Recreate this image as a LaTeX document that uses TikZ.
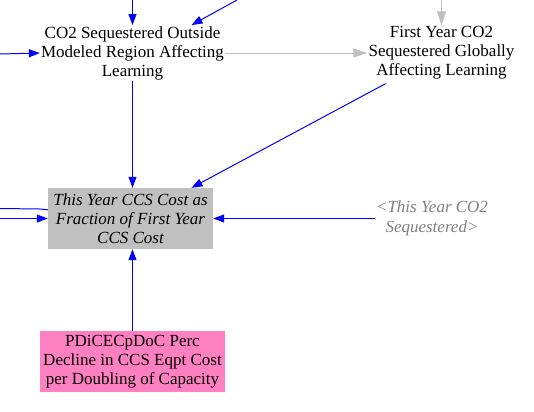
\documentclass[tikz,border=0pt]{standalone}
\usepackage{fontspec}
\setmainfont{Liberation Serif}
\usetikzlibrary{arrows.meta,calc}
\definecolor{linkblue}{RGB}{0,0,255}
\definecolor{shadowgray}{RGB}{192,192,192}
\definecolor{ghosttext}{RGB}{128,128,128}
\definecolor{constpink}{RGB}{255,128,192}
\tikzset{
    var/.style={align=center,inner sep=1bp,font=\rmfamily\fontsize{17bp}{19bp}\selectfont},
    auxbox/.style={var,fill=shadowgray,minimum width=165bp,minimum height=61bp,font=\rmfamily\fontsize{17bp}{19bp}\selectfont\itshape},
    ghost/.style={var,text=ghosttext,font=\rmfamily\fontsize{17bp}{20bp}\selectfont\itshape},
    constbox/.style={var,fill=constpink,minimum width=185bp,minimum height=61bp},
    link/.style={linkblue,line width=1bp,-{Triangle[length=11bp,width=8bp]}},
    glink/.style={shadowgray,line width=1bp,-{Triangle[length=14bp,width=9bp]}}
}
\begin{document}
\begin{tikzpicture}[x=1bp,y=-1bp]
        \useasboundingbox (0,0) rectangle (534,411);
        \coordinate (inA) at (132.5,0);
        \coordinate (inB) at (237,0);
        \coordinate (inC) at (0,54);
        \coordinate (inD) at (441.5,0);
        \coordinate (inE) at (0,208.5);
        \coordinate (inF) at (0,218.5);
        \draw[linkblue,line width=1bp] (inE) -- (40,209) -- (60,211);
        \node[var] (co2out) at (132.5,53) {CO2 Sequestered Outside\\Modeled Region Affecting\\Learning};
        \node[var] (firstyr) at (441.5,53) {First Year CO2\\Sequestered Globally\\Affecting Learning};
        \node[auxbox] (ratio) at (130.5,218.5) {This Year CCS Cost as\\Fraction of First Year\\CCS Cost};
        \node[ghost] (thisyr) at (432,218.5) {<This Year CO2\\Sequestered>};
        \node[constbox] (pdice) at (132.5,361.5) {PDiCECpDoC Perc\\Decline in CCS Eqpt Cost\\per Doubling of Capacity};
        \draw[link] (inA) -- (co2out.north);
        \draw[link] (inB) -- ($(co2out.north)+(59,0)$);
        \draw[link] (inC) -- (co2out.west);
        \draw[glink] (co2out.east) -- (firstyr.west);
        \draw[glink] (inD) -- (firstyr.north);
        \draw[link] ($(firstyr.south)+(-56,3)$) -- ($(ratio.north)+(61,0)$);
        \draw[link] (co2out.south) -- (co2out.south |- ratio.north);
        \draw[link] (inF) -- (ratio.west);
        \draw[link] (thisyr.west) -- (ratio.east);
        \draw[link] (pdice.north) -- (pdice.north |- ratio.south);
\end{tikzpicture}
\end{document}
